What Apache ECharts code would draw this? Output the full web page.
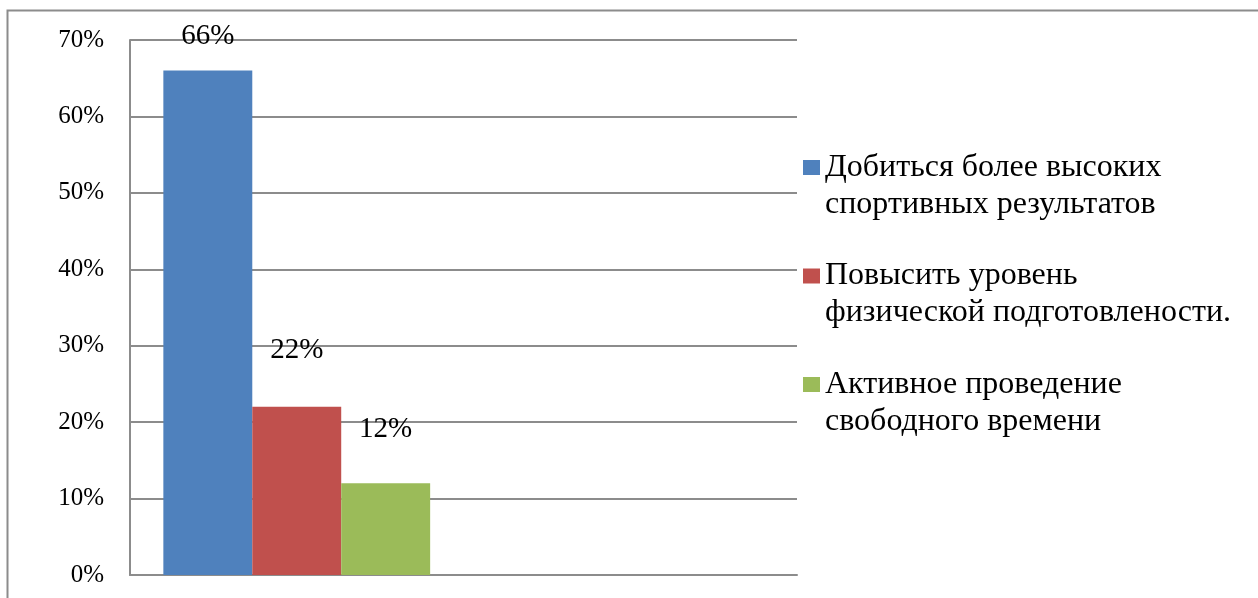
<!DOCTYPE html>
<html>
<head>
<meta charset="utf-8">
<script src="https://cdn.jsdelivr.net/npm/echarts@6/dist/echarts.min.js"></script>
<style>
html,body{margin:0;padding:0;background:#fff;}
#chart{width:1258px;height:598px;}
</style>
</head>
<body>
<div id="chart"></div>
<script>
const categories = ['', ''];
const seriesNames = [
  'Добиться более высоких\nспортивных результатов',
  'Повысить уровень\nфизической подготовлености.',
  'Активное проведение\nсвободного времени'
];
const values1 = [66, null];
const values2 = [22, null];
const values3 = [12, null];
const yTicks = [0, 10, 20, 30, 40, 50, 60, 70];

const colors = ['#4f81bd', '#c0504d', '#9bbb59'];
const labelDist = [20, 42, 39];
const dataSets = [values1, values2, values3];
const FONT = '"Liberation Serif", "Times New Roman", serif';

const chart = echarts.init(document.getElementById('chart'));
chart.setOption({
  animation: false,
  backgroundColor: '#fff',
  textStyle: { fontFamily: FONT },
  graphic: [{
    type: 'rect',
    left: 5, top: 8,
    shape: { width: 1400, height: 800 },
    style: { fill: 'none', stroke: '#8c8c8c', lineWidth: 2 },
    silent: true, z: -1
  }],
  grid: { left: 130, right: 461, top: 40, bottom: 23, containLabel: false },
  legend: {
    orient: 'vertical',
    left: 803, top: 112,
    padding: 0,
    itemWidth: 17, itemHeight: 15,
    itemGap: -2.5,
    icon: 'rect',
    data: seriesNames,
    formatter: function (name) { return '\n' + name; },
    textStyle: {
      fontFamily: FONT, fontSize: 32, color: '#000',
      lineHeight: 37
    }
  },
  xAxis: {
    type: 'category',
    data: categories,
    axisLine: { lineStyle: { color: '#8c8c8c', width: 2 } },
    axisTick: { show: false },
    axisLabel: { show: false }
  },
  yAxis: {
    type: 'value',
    min: yTicks[0], max: yTicks[yTicks.length - 1], interval: 10,
    axisLine: { show: true, lineStyle: { color: '#8c8c8c', width: 2 } },
    axisTick: { show: false },
    axisLabel: { formatter: '{value}%', fontFamily: FONT, fontSize: 25, color: '#000', margin: 26 },
    splitLine: { lineStyle: { color: '#8c8c8c', width: 2 } }
  },
  series: seriesNames.map((name, i) => ({
    name: name,
    type: 'bar',
    data: dataSets[i],
    barGap: 0,
    barCategoryGap: '20%',
    itemStyle: { color: colors[i] },
    label: {
      show: true, position: 'top', distance: labelDist[i],
      formatter: '{c}%', fontFamily: FONT, fontSize: 29, color: '#000'
    }
  }))
});
</script>
</body>
</html>
